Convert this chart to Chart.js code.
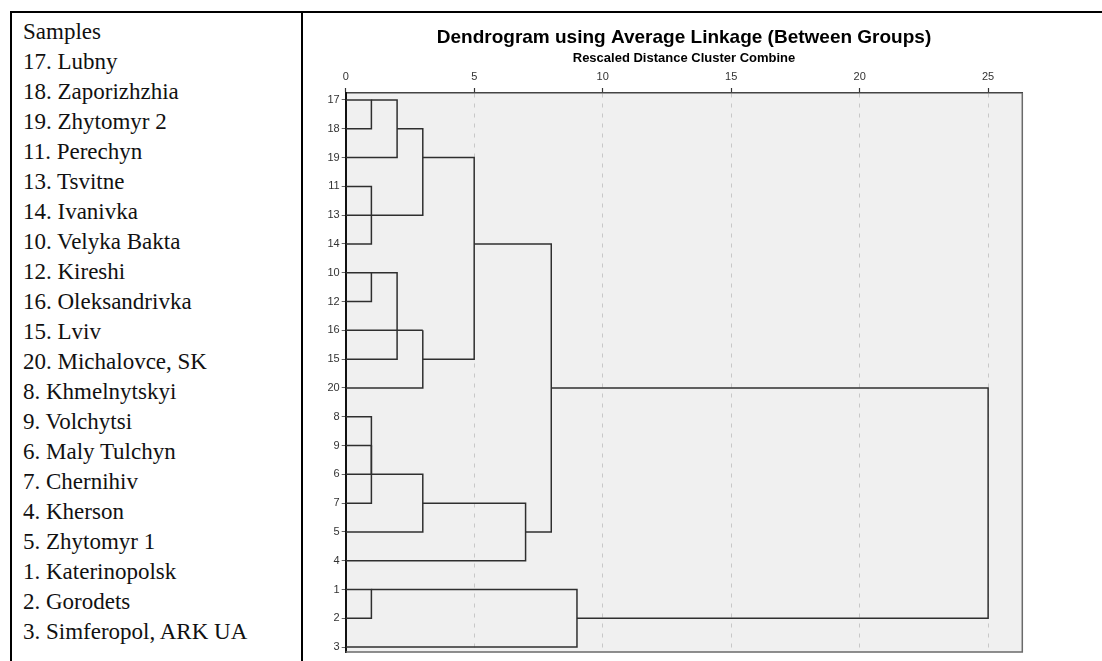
<!DOCTYPE html>
<html>
<head>
<meta charset="utf-8">
<script src="https://cdn.jsdelivr.net/npm/chart.js@4.4.1/dist/chart.umd.min.js"></script>
<style>
  html, body { margin: 0; padding: 0; background: #fff; }
  body { width: 1102px; height: 661px; position: relative; overflow: hidden; }
  .rule-top { position: absolute; left: 10px; top: 11px; width: 1092px; border-top: 2px solid #000; }
  .rule-left { position: absolute; left: 10px; top: 11px; height: 650px; border-left: 2px solid #000; }
  .rule-mid { position: absolute; left: 301px; top: 11px; height: 650px; border-left: 2px solid #000; }
  #samples {
    position: absolute; left: 23px; top: 17px;
    font-family: "Palatino Linotype", "Book Antiqua", Palatino, "Liberation Serif", serif;
    font-size: 23px; line-height: 30px; color: #111; white-space: nowrap;
  }
  .chart-box { position: absolute; left: 304px; top: 0; width: 798px; height: 661px; }
</style>
</head>
<body>
<div class="rule-top"></div>
<div class="rule-left"></div>
<div class="rule-mid"></div>
<div id="samples"></div>
<div class="chart-box"><canvas id="dendrogram"></canvas></div>

<script>
// leaves, top to bottom as SPSS ordered them
const leafLabels = ['17', '18', '19', '11', '13', '14', '10', '12', '16', '15',
                    '20', '8', '9', '6', '7', '5', '4', '1', '2', '3'];

const sampleNames = ['17. Lubny', '18. Zaporizhzhia', '19. Zhytomyr 2', '11. Perechyn',
  '13. Tsvitne', '14. Ivanivka', '10. Velyka Bakta', '12. Kireshi', '16. Oleksandrivka',
  '15. Lviv', '20. Michalovce, SK', '8. Khmelnytskyi', '9. Volchytsi', '6. Maly Tulchyn',
  '7. Chernihiv', '4. Kherson', '5. Zhytomyr 1', '1. Katerinopolsk', '2. Gorodets',
  '3. Simferopol, ARK UA'];

const xTicks = [0, 5, 10, 15, 20, 25];

// one entry per join: upper row + where its line starts, lower row + where its line starts,
// and the rescaled distance of the join
const mergeRowA  = [0, 0, 3, 4, 1, 6, 6, 8, 8, 2, 11, 12, 12, 13, 14, 5, 17, 17, 10];
const mergeFromA = [0, 1, 0, 1, 2, 0, 1, 2, 3, 3,  0,  1,  1,  1,  3, 5,  0,  1,  8];
const mergeRowB  = [1, 2, 4, 5, 4, 7, 9, 8, 10, 9, 12, 13, 14, 15, 16, 15, 18, 19, 18];
const mergeFromB = [0, 0, 0, 0, 1, 0, 0, 0, 0, 3,  0,  0,  0,  0,  0, 7,  0,  0,  9];
const mergeDist  = [1, 2, 1, 1, 3, 1, 2, 3, 3, 5,  1,  1,  1,  3,  7, 8,  1,  9, 25];

document.getElementById('samples').innerHTML =
  ['Samples'].concat(sampleNames).map(s => '<div>' + s + '</div>').join('');

const datasets = mergeDist.map((d, i) => ({
  data: [
    { x: mergeFromA[i], y: mergeRowA[i] },
    { x: d, y: mergeRowA[i] },
    { x: d, y: mergeRowB[i] },
    { x: mergeFromB[i], y: mergeRowB[i] },
  ],
  showLine: true,
  borderColor: '#2f2f2f',
  borderWidth: 1.5,
  pointRadius: 0,
  tension: 0,
  fill: false,
}));

// grey plot panel with its right and bottom edges
const plotPanel = {
  id: 'plotPanel',
  beforeDraw(chart) {
    const { ctx, chartArea: a } = chart;
    ctx.save();
    ctx.fillStyle = '#f0f0f0';
    ctx.fillRect(a.left, a.top, a.right - a.left, a.bottom - a.top);
    ctx.restore();
  },
  afterDraw(chart) {
    const { ctx, chartArea: a } = chart;
    ctx.save();
    ctx.strokeStyle = '#6a6a6a';
    ctx.lineWidth = 1.5;
    ctx.beginPath();
    ctx.moveTo(a.right, a.top);
    ctx.lineTo(a.right, a.bottom);
    ctx.lineTo(a.left, a.bottom);
    ctx.stroke();
    ctx.restore();
  }
};

const tickFont = { family: "'Liberation Sans', Arial, sans-serif", size: 11 };

new Chart(document.getElementById('dendrogram'), {
  type: 'scatter',
  data: { datasets },
  plugins: [plotPanel],
  options: {
    responsive: true,
    maintainAspectRatio: false,
    animation: false,
    layout: { padding: { top: 0, left: 0, right: 79.7, bottom: 9 } },
    plugins: {
      legend: { display: false },
      tooltip: { enabled: false },
      title: {
        display: true,
        text: 'Dendrogram using Average Linkage (Between Groups)',
        fullSize: false,
        color: '#000',
        font: { family: "'Liberation Sans', Arial, sans-serif", size: 19, weight: 'bold' },
        padding: { top: 26, bottom: 0 },
      },
      subtitle: {
        display: true,
        text: 'Rescaled Distance Cluster Combine',
        fullSize: false,
        color: '#000',
        font: { family: "'Liberation Sans', Arial, sans-serif", size: 13, weight: 'bold' },
        padding: { top: 2, bottom: 0 },
      },
    },
    scales: {
      x: {
        type: 'linear',
        position: 'top',
        min: 0,
        max: 26.33,
        afterBuildTicks: s => { s.ticks = xTicks.map(v => ({ value: v })); },
        afterFit: s => { s.height = 26.6; },
        ticks: { color: '#333', font: tickFont, padding: 4 },
        grid: {
          color: c => (c.tick && c.tick.value === 0) ? 'rgba(0,0,0,0)' : '#c8c8c8',
          lineWidth: 1,
          tickColor: '#333',
          tickLength: 5,
          tickWidth: 1.2,
        },
        border: { display: true, color: '#444', width: 1.5, dash: [4, 6] },
      },
      y: {
        type: 'linear',
        reverse: true,
        min: -0.243,
        max: 19.17,
        afterBuildTicks: s => { s.ticks = leafLabels.map((_, i) => ({ value: i })); },
        afterFit: s => { s.width = 41.7; },
        ticks: {
          autoSkip: false,
          color: '#333',
          font: tickFont,
          padding: 2,
          callback: v => leafLabels[v],
        },
        grid: { drawOnChartArea: false, drawTicks: true, tickLength: 4, tickColor: '#666' },
        border: { display: true, color: '#111', width: 2 },
      },
    },
  },
});
</script>
</body>
</html>
